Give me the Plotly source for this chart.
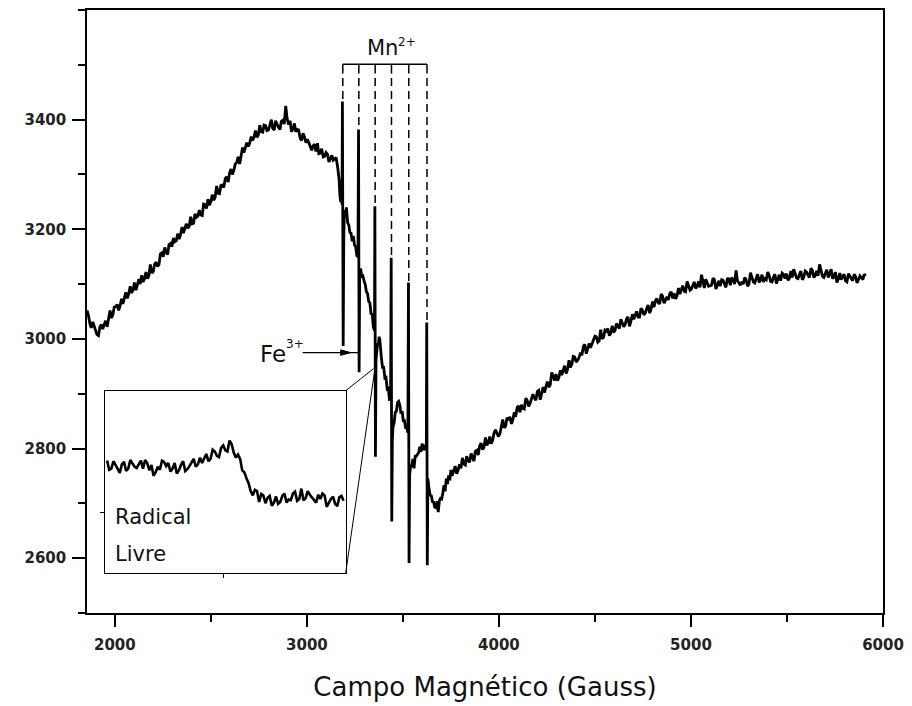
import plotly.graph_objects as go

# ---------------------------------------------------------------------------
# EPR spectrum: microwave absorption derivative vs. magnetic field
# ---------------------------------------------------------------------------

# Low-field part of the sweep (Gauss) and signal (a.u.)
field_low = [1855, 1862, 1870, 1877, 1885, 1892, 1900, 1907, 1915, 1922,
             1930, 1937, 1945, 1952, 1960, 1967, 1975, 1982, 1990, 1997,
             2005, 2012, 2020, 2027, 2035, 2042, 2050, 2057, 2065, 2072,
             2080, 2087, 2095, 2102, 2110, 2117, 2125, 2132, 2140, 2147,
             2155, 2162, 2170, 2177, 2185, 2192, 2200, 2207, 2215, 2222,
             2230, 2237, 2245, 2252, 2260, 2267, 2275, 2282, 2290, 2297,
             2305, 2312, 2320, 2327, 2335, 2342, 2350, 2357, 2365, 2372,
             2380, 2387, 2395, 2402, 2410, 2417, 2425, 2432, 2440, 2447,
             2455, 2462, 2470, 2477, 2485, 2492, 2500, 2507, 2515, 2522,
             2530, 2537, 2545, 2552, 2560, 2567, 2575, 2582, 2590, 2597,
             2605, 2612, 2620, 2627, 2635, 2642, 2650, 2657, 2665, 2672,
             2680, 2687, 2695, 2702, 2710, 2717, 2725, 2732, 2740, 2747,
             2755, 2762, 2770, 2777, 2785, 2792, 2800, 2807, 2815, 2822,
             2830, 2837, 2845, 2852, 2860, 2867, 2875, 2882, 2890, 2897,
             2905, 2912, 2920, 2927, 2935, 2942, 2950, 2957, 2965, 2972,
             2980, 2987, 2995, 3002, 3010, 3017, 3025, 3032, 3040, 3047,
             3055, 3062, 3070, 3077, 3085, 3092, 3100, 3107, 3115, 3122,
             3130, 3137, 3145, 3152, 3160]
signal_low = [3052, 3044, 3028, 3020, 3031, 3024, 3013, 3008, 3006, 3022,
              3026, 3018, 3027, 3033, 3022, 3041, 3052, 3038, 3045, 3058,
              3059, 3063, 3052, 3060, 3073, 3064, 3073, 3085, 3074, 3082,
              3096, 3084, 3089, 3103, 3089, 3098, 3109, 3100, 3116, 3104,
              3110, 3122, 3110, 3115, 3136, 3120, 3123, 3136, 3140, 3132,
              3136, 3155, 3157, 3150, 3167, 3158, 3154, 3172, 3174, 3168,
              3184, 3177, 3179, 3192, 3182, 3190, 3204, 3193, 3203, 3210,
              3202, 3205, 3223, 3210, 3211, 3228, 3222, 3224, 3235, 3226,
              3225, 3246, 3245, 3238, 3255, 3244, 3250, 3263, 3253, 3258,
              3279, 3266, 3265, 3280, 3281, 3276, 3292, 3296, 3286, 3302,
              3310, 3300, 3308, 3319, 3322, 3332, 3319, 3333, 3349, 3340,
              3352, 3358, 3351, 3357, 3369, 3362, 3368, 3380, 3368, 3372,
              3390, 3378, 3377, 3390, 3389, 3380, 3381, 3392, 3400, 3384,
              3381, 3398, 3391, 3386, 3382, 3397, 3399, 3392, 3425, 3402,
              3391, 3398, 3378, 3383, 3393, 3378, 3382, 3381, 3366, 3362,
              3375, 3369, 3358, 3364, 3358, 3350, 3344, 3352, 3355, 3342,
              3357, 3338, 3339, 3347, 3332, 3333, 3340, 3337, 3323, 3328,
              3335, 3326, 3329, 3331, 3314]

# Hyperfine region (Mn2+ sextet, Fe3+ and free-radical signals)
field_mid = [3168, 3172, 3176, 3180, 3183, 3185, 3189, 3192, 3195, 3200,
             3206, 3212, 3218, 3224, 3230, 3236, 3242, 3248, 3254, 3260,
             3266, 3269, 3272, 3275, 3280, 3286, 3292, 3298, 3304, 3310,
             3316, 3322, 3328, 3334, 3340, 3346, 3352, 3354, 3357, 3360,
             3364, 3368, 3372, 3376, 3380, 3384, 3388, 3394, 3400, 3406,
             3412, 3418, 3424, 3430, 3436, 3439, 3442, 3445, 3448, 3454,
             3460, 3466, 3472, 3478, 3484, 3490, 3496, 3502, 3508, 3514,
             3520, 3526, 3529, 3532, 3535, 3540, 3546, 3552, 3558, 3564,
             3570, 3576, 3582, 3588, 3594, 3600, 3606, 3612, 3618, 3622,
             3624, 3627, 3630, 3636, 3642, 3648, 3654, 3660, 3666, 3672,
             3678, 3684, 3690, 3696, 3702, 3708, 3714, 3720, 3726, 3732,
             3738, 3744, 3750, 3756]
signal_mid = [3290, 3262, 3250, 3258, 3245, 3433, 2987, 3180, 3235, 3222,
              3240, 3212, 3208, 3194, 3193, 3178, 3188, 3171, 3168, 3152,
              3150, 3382, 2939, 3125, 3128, 3112, 3114, 3106, 3099, 3086,
              3083, 3068, 3066, 3046, 3045, 3022, 3015, 3242, 2785, 2962,
              2980, 2992, 2988, 3004, 2998, 2968, 2965, 2948, 2948, 2929,
              2930, 2909, 2910, 2890, 2891, 3148, 2667, 2815, 2838, 2846,
              2866, 2868, 2884, 2886, 2879, 2864, 2868, 2851, 2851, 2838,
              2838, 2829, 3103, 2591, 2752, 2768, 2768, 2781, 2764, 2786,
              2786, 2791, 2793, 2803, 2794, 2809, 2797, 2807, 2797, 2800,
              3030, 2587, 2745, 2727, 2715, 2714, 2703, 2702, 2693, 2692,
              2704, 2684, 2705, 2709, 2708, 2719, 2733, 2722, 2745, 2735,
              2751, 2742, 2761, 2750]

# High-field part of the sweep
field_high = [3765, 3772, 3780, 3787, 3795, 3802, 3810, 3817, 3825, 3832,
              3840, 3847, 3855, 3862, 3870, 3877, 3885, 3892, 3900, 3907,
              3915, 3922, 3930, 3937, 3945, 3952, 3960, 3967, 3975, 3982,
              3990, 3997, 4005, 4012, 4020, 4027, 4035, 4042, 4050, 4057,
              4065, 4072, 4080, 4087, 4095, 4102, 4110, 4117, 4125, 4132,
              4140, 4147, 4155, 4162, 4170, 4177, 4185, 4192, 4200, 4207,
              4215, 4222, 4230, 4237, 4245, 4252, 4260, 4267, 4275, 4282,
              4290, 4297, 4305, 4312, 4320, 4327, 4335, 4342, 4350, 4357,
              4365, 4372, 4380, 4387, 4395, 4402, 4410, 4417, 4425, 4432,
              4440, 4447, 4455, 4462, 4470, 4477, 4485, 4492, 4500, 4507,
              4515, 4522, 4530, 4537, 4545, 4552, 4560, 4567, 4575, 4582,
              4590, 4597, 4605, 4612, 4620, 4627, 4635, 4642, 4650, 4657,
              4665, 4672, 4680, 4687, 4695, 4702, 4710, 4717, 4725, 4732,
              4740, 4747, 4755, 4762, 4770, 4777, 4785, 4792, 4800, 4807,
              4815, 4822, 4830, 4837, 4845, 4852, 4860, 4867, 4875, 4882,
              4890, 4897, 4905, 4912, 4920, 4927, 4935, 4942, 4950, 4957,
              4965, 4972, 4980, 4987, 4995, 5002, 5010, 5017, 5025, 5032,
              5040, 5047, 5055, 5062, 5070, 5077, 5085, 5092, 5100, 5107,
              5115, 5122, 5130, 5137, 5145, 5152, 5160, 5167, 5175, 5182,
              5190, 5197, 5205, 5212, 5220, 5227, 5235, 5242, 5250, 5257,
              5265, 5272, 5280, 5287, 5295, 5302, 5310, 5317, 5325, 5332,
              5340, 5347, 5355, 5362, 5370, 5377, 5385, 5392, 5400, 5407,
              5415, 5422, 5430, 5437, 5445, 5452, 5460, 5467, 5475, 5482,
              5490, 5497, 5505, 5512, 5520, 5527, 5535, 5542, 5550, 5557,
              5565, 5572, 5580, 5587, 5595, 5602, 5610, 5617, 5625, 5632,
              5640, 5647, 5655, 5662, 5670, 5677, 5685, 5692, 5700, 5707,
              5715, 5722, 5730, 5737, 5745, 5752, 5760, 5767, 5775, 5782,
              5790, 5797, 5805, 5812, 5820, 5827, 5835, 5842, 5850, 5857,
              5865, 5872, 5880, 5887, 5895, 5902, 5910]
signal_high = [2762, 2768, 2754, 2760, 2771, 2764, 2783, 2772, 2770, 2786,
               2778, 2775, 2791, 2784, 2777, 2795, 2797, 2788, 2805, 2810,
               2798, 2802, 2820, 2806, 2810, 2822, 2809, 2815, 2829, 2834,
               2829, 2822, 2827, 2842, 2853, 2838, 2841, 2856, 2852, 2858,
               2845, 2852, 2866, 2858, 2875, 2878, 2866, 2880, 2873, 2872,
               2892, 2888, 2877, 2882, 2893, 2899, 2892, 2888, 2904, 2906,
               2889, 2900, 2912, 2902, 2915, 2922, 2912, 2916, 2939, 2932,
               2924, 2936, 2924, 2929, 2943, 2934, 2943, 2951, 2937, 2944,
               2961, 2948, 2954, 2968, 2967, 2958, 2961, 2966, 2975, 2970,
               2987, 2990, 2973, 2982, 2992, 2984, 2991, 2999, 3005, 3004,
               2994, 2996, 3017, 3000, 3003, 3016, 3014, 3019, 3006, 3010,
               3024, 3012, 3016, 3028, 3024, 3019, 3036, 3030, 3022, 3026,
               3037, 3040, 3023, 3032, 3045, 3036, 3044, 3050, 3040, 3040,
               3056, 3052, 3044, 3047, 3056, 3062, 3047, 3054, 3068, 3058,
               3069, 3074, 3066, 3064, 3082, 3078, 3065, 3070, 3077, 3071,
               3083, 3086, 3074, 3083, 3073, 3078, 3093, 3082, 3089, 3097,
               3087, 3086, 3105, 3098, 3089, 3091, 3100, 3104, 3092, 3096,
               3105, 3094, 3117, 3106, 3093, 3109, 3103, 3096, 3097, 3098,
               3111, 3108, 3091, 3100, 3106, 3096, 3108, 3107, 3099, 3094,
               3111, 3109, 3098, 3112, 3108, 3100, 3125, 3106, 3102, 3098,
               3104, 3100, 3112, 3108, 3096, 3100, 3121, 3114, 3104, 3102,
               3113, 3118, 3103, 3108, 3117, 3104, 3110, 3108, 3122, 3116,
               3105, 3104, 3113, 3118, 3101, 3108, 3117, 3106, 3120, 3118,
               3110, 3119, 3107, 3110, 3124, 3112, 3127, 3120, 3111, 3110,
               3119, 3124, 3108, 3112, 3124, 3122, 3116, 3112, 3129, 3125,
               3112, 3116, 3124, 3115, 3136, 3126, 3114, 3112, 3121, 3126,
               3112, 3118, 3127, 3110, 3113, 3122, 3103, 3109, 3120, 3108,
               3115, 3118, 3106, 3104, 3119, 3114, 3109, 3106, 3118, 3114,
               3102, 3107, 3115, 3112, 3108, 3118, 3115]

# Expanded view of the free-radical line (inset)
inset_field = [3329.5, 3330, 3330.5, 3331, 3331.5, 3332, 3332.5, 3333, 3333.5, 3334,
               3334.5, 3335, 3335.5, 3336, 3336.5, 3337, 3337.5, 3338, 3338.5, 3339,
               3339.5, 3340, 3340.5, 3341, 3341.5, 3342, 3342.5, 3343, 3343.5, 3344,
               3344.5, 3345, 3345.5, 3346, 3346.5, 3347, 3347.5, 3348, 3348.5, 3349,
               3349.5, 3350, 3350.5, 3351, 3351.5, 3352, 3352.5, 3353, 3353.5, 3354,
               3354.5, 3355, 3355.5, 3356, 3356.5, 3357, 3357.5, 3358, 3358.5, 3359,
               3359.5, 3360, 3360.5, 3361, 3361.5, 3362, 3362.5, 3363, 3363.5, 3364,
               3364.5, 3365, 3365.5, 3366, 3366.5, 3367, 3367.5, 3368, 3368.5, 3369,
               3369.5, 3370, 3370.5, 3371, 3371.5, 3372, 3372.5, 3373, 3373.5, 3374,
               3374.5, 3375, 3375.5, 3376, 3376.5, 3377, 3377.5, 3378, 3378.5, 3379,
               3379.5, 3380, 3380.5, 3381, 3381.5, 3382, 3382.5, 3383, 3383.5, 3384,
               3384.5, 3385, 3385.5]
inset_signal = [2785, 2770, 2772, 2784, 2778, 2770, 2765, 2779, 2783, 2768,
                2772, 2786, 2780, 2775, 2773, 2779, 2785, 2772, 2786, 2781,
                2769, 2778, 2760, 2766, 2775, 2770, 2785, 2783, 2776, 2781,
                2767, 2772, 2781, 2764, 2769, 2778, 2784, 2768, 2771, 2776,
                2783, 2788, 2775, 2779, 2790, 2781, 2789, 2796, 2784, 2788,
                2803, 2800, 2793, 2791, 2806, 2810, 2802, 2800, 2818, 2812,
                2798, 2790, 2795, 2788, 2769, 2766, 2756, 2748, 2735, 2728,
                2737, 2735, 2717, 2730, 2728, 2715, 2724, 2727, 2711, 2716,
                2726, 2714, 2717, 2727, 2731, 2716, 2721, 2720, 2731, 2734,
                2719, 2722, 2739, 2720, 2723, 2735, 2729, 2724, 2719, 2716,
                2729, 2722, 2731, 2728, 2709, 2716, 2722, 2726, 2714, 2710,
                2725, 2727, 2719]

# Mn2+ hyperfine line positions (Gauss) and the top of each line
mn_lines = [3187, 3270.5, 3355.5, 3440.5, 3530.5, 3625.5]
mn_tops = [3433, 3382, 3242, 3148, 3103, 3030]

# Axis settings
x_range = [1855, 6000]
y_range = [2500, 3600]
x_major = [2000, 3000, 4000, 5000, 6000]
x_minor = [2500, 3500, 4500, 5500]
y_major = [2600, 2800, 3000, 3200, 3400]
y_minor = [2500, 2700, 2900, 3100, 3300, 3500, 3600]

inset_x_range = [3329, 3386]
inset_y_range = [2600, 2900]
inset_x_dom = [0.0226, 0.325]
inset_y_dom = [0.0661, 0.3686]

field = field_low + field_mid + field_high
signal = signal_low + signal_mid + signal_high

INK = "black"
TICK_FONT = dict(family="DejaVu Sans", size=15, color="#222", weight="bold")
TITLE_FONT = dict(family="DejaVu Sans", size=26, color="#111")
TEXT_FONT = dict(family="DejaVu Sans", size=21, color="#111")
SUP_FONT = dict(family="DejaVu Sans", size=12, color="#111")

fig = go.Figure()
fig.add_trace(go.Scatter(x=field, y=signal, mode="lines",
                         line=dict(color=INK, width=2.8),
                         xaxis="x", yaxis="y", hoverinfo="skip"))
fig.add_trace(go.Scatter(x=inset_field, y=inset_signal, mode="lines",
                         line=dict(color=INK, width=2.6),
                         xaxis="x2", yaxis="y2", hoverinfo="skip"))

shapes = []
# Mn2+ bracket: top bar, short solid legs, dashed drop lines
bracket_y = 3501
leg_y = 3484
shapes.append(dict(type="line", xref="x", yref="y", x0=mn_lines[0], x1=mn_lines[-1],
                   y0=bracket_y, y1=bracket_y, line=dict(color=INK, width=1.5)))
for xm, top in zip(mn_lines, mn_tops):
    shapes.append(dict(type="line", xref="x", yref="y", x0=xm, x1=xm,
                       y0=bracket_y, y1=leg_y, line=dict(color=INK, width=1.5)))
    shapes.append(dict(type="line", xref="x", yref="y", x0=xm, x1=xm,
                       y0=leg_y - 8, y1=top, line=dict(color=INK, width=1.5, dash="8px,5px")))

# Fe3+ pointer: line plus a filled arrow head
fe_y = 2975
shapes.append(dict(type="line", xref="x", yref="y", x0=2978, x1=mn_lines[1],
                   y0=fe_y, y1=fe_y, line=dict(color=INK, width=1.2)))
head_tip, head_base, head_half = 3228, 3176, 5
shapes.append(dict(type="path", xref="x", yref="y",
                   path=f"M {head_base},{fe_y + head_half} L {head_tip},{fe_y} "
                        f"L {head_base},{fe_y - head_half} Z",
                   fillcolor=INK, line=dict(color=INK, width=1)))

# Connector lines from the inset frame to the radical line
bx = x_range[0] + inset_x_dom[1] * (x_range[1] - x_range[0])
by_top = y_range[0] + inset_y_dom[1] * (y_range[1] - y_range[0])
by_bot = y_range[0] + inset_y_dom[0] * (y_range[1] - y_range[0])
shapes.append(dict(type="line", xref="x", yref="y", x0=bx, y0=by_top, x1=3348, y1=2946,
                   line=dict(color=INK, width=1)))
shapes.append(dict(type="line", xref="x", yref="y", x0=bx, y0=by_bot, x1=3352, y1=2940,
                   line=dict(color=INK, width=1)))

annotations = [
    # Mn2+ label (element symbol + charge written as a raised small label)
    dict(text="Mn", xref="x", yref="y", x=3485, y=3531,
         showarrow=False, font=TEXT_FONT, xanchor="right", yanchor="middle"),
    dict(text="2+", xref="x", yref="y", x=3466, y=3542,
         showarrow=False, font=SUP_FONT, xanchor="left", yanchor="middle"),
    # Fe3+ label
    dict(text="Fe", xref="x", yref="y", x=2900, y=2972,
         showarrow=False, font=dict(TEXT_FONT, size=23), xanchor="right", yanchor="middle"),
    dict(text="3+", xref="x", yref="y", x=2880, y=2990,
         showarrow=False, font=SUP_FONT, xanchor="left", yanchor="middle"),
    dict(text="Radical", xref="paper", yref="paper", x=0.0326, y=0.1587,
         showarrow=False, font=TEXT_FONT, xanchor="left", yanchor="middle"),
    dict(text="Livre", xref="paper", yref="paper", x=0.0326, y=0.0975,
         showarrow=False, font=TEXT_FONT, xanchor="left", yanchor="middle"),
]

axis_common = dict(showgrid=False, zeroline=False, showline=True, linecolor=INK,
                   mirror=True, ticks="outside", tickcolor=INK)

fig.update_layout(
    width=912, height=706,
    margin=dict(l=87, r=28, t=8, b=93),
    paper_bgcolor="white", plot_bgcolor="white",
    showlegend=False,
    xaxis=dict(**axis_common, range=x_range, linewidth=1.5, tickwidth=1.5, ticklen=12,
               tickmode="array", tickvals=x_major, ticktext=[str(v) for v in x_major],
               minor=dict(tickmode="array", tickvals=x_minor, ticks="outside",
                          ticklen=7, tickcolor=INK, tickwidth=1.5, showgrid=False),
               tickfont=TICK_FONT, ticklabelstandoff=5,
               title=dict(text="Campo Magnético (Gauss)", font=TITLE_FONT, standoff=25)),
    yaxis=dict(**axis_common, range=y_range, linewidth=1.5, tickwidth=1.5, ticklen=13,
               tickmode="array", tickvals=y_major, ticktext=[str(v) for v in y_major],
               minor=dict(tickmode="array", tickvals=y_minor, ticks="outside",
                          ticklen=7, tickcolor=INK, tickwidth=1.5, showgrid=False),
               tickfont=TICK_FONT, ticklabelstandoff=3),
    xaxis2=dict(**axis_common, domain=inset_x_dom, anchor="y2", range=inset_x_range,
                linewidth=1, tickwidth=1, ticklen=4, tickmode="array", tickvals=[3357],
                showticklabels=False),
    yaxis2=dict(**axis_common, domain=inset_y_dom, anchor="x2", range=inset_y_range,
                linewidth=1, tickwidth=1, ticklen=4, tickmode="array", tickvals=[2700],
                showticklabels=False),
    shapes=shapes,
    annotations=annotations,
)

fig.write_html("out.html")
